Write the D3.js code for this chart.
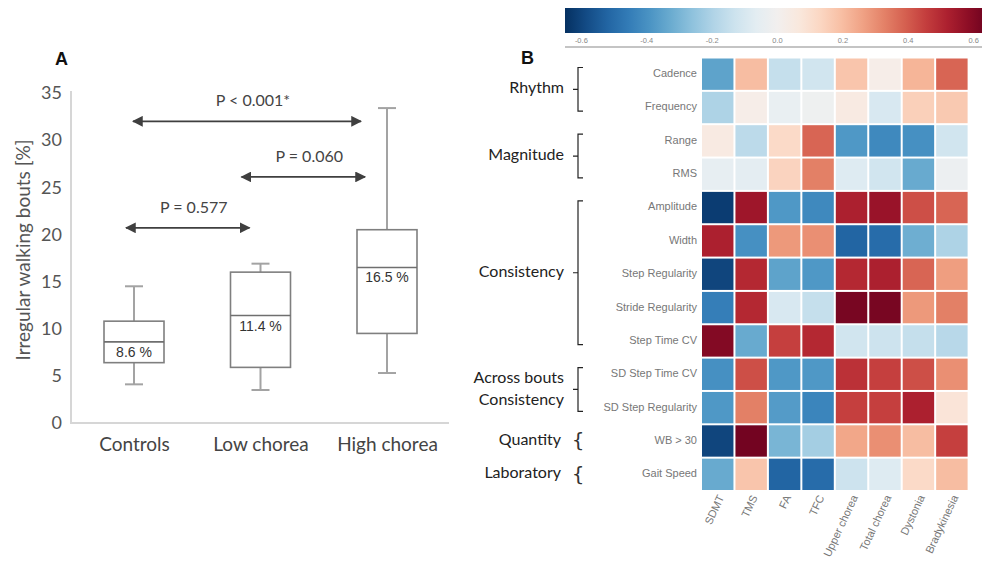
<!DOCTYPE html>
<html>
<head>
<meta charset="utf-8">
<script src="https://cdn.jsdelivr.net/npm/d3@7"></script>
<style>
  html, body { margin: 0; padding: 0; background: #fff; }
  svg { display: block; }
</style>
</head>
<body>
<svg id="chart" width="982" height="566"></svg>
<script>
// ---- Panel A: irregular walking bouts per group ----
const groups = ["Controls", "Low chorea", "High chorea"];
const whiskerLow = [4.1, 3.5, 5.3];
const quartile1 = [6.4, 5.9, 9.5];
const medians = [8.6, 11.4, 16.5];
const quartile3 = [10.8, 16.0, 20.5];
const whiskerHigh = [14.5, 16.9, 33.4];
const yTicks = [0, 5, 10, 15, 20, 25, 30, 35];

// pairwise comparisons drawn as double arrows
const compLabels = ["P < 0.001*", "P = 0.060", "P = 0.577"];
const compFrom = [0, 1, 0];
const compTo = [2, 2, 1];
const compLevel = [32.0, 26.1, 20.7];

// ---- Panel B: correlation heatmap ----
const featureRows = ["Cadence", "Frequency", "Range", "RMS", "Amplitude", "Width",
  "Step Regularity", "Stride Regularity", "Step Time CV", "SD Step Time CV",
  "SD Step Regularity", "WB > 30", "Gait Speed"];
const clinicalCols = ["SDMT", "TMS", "FA", "TFC", "Upper chorea", "Total chorea", "Dystonia", "Bradykinesia"];
const correlations = [
  [-0.35, 0.20, -0.15, -0.12, 0.18, 0.03, 0.22, 0.38],
  [-0.20, 0.03, -0.04, -0.02, 0.05, -0.10, 0.15, 0.17],
  [0.05, -0.17, 0.12, 0.38, -0.38, -0.42, -0.40, -0.12],
  [-0.05, -0.06, 0.14, 0.33, -0.08, -0.12, -0.33, -0.03],
  [-0.62, 0.55, -0.38, -0.42, 0.52, 0.56, 0.42, 0.38],
  [0.52, -0.40, 0.28, 0.30, -0.52, -0.50, -0.32, -0.20],
  [-0.60, 0.50, -0.35, -0.38, 0.50, 0.52, 0.38, 0.27],
  [-0.45, 0.50, -0.10, -0.15, 0.62, 0.62, 0.28, 0.33],
  [0.60, -0.33, 0.45, 0.50, -0.12, -0.13, -0.15, -0.18],
  [-0.40, 0.42, -0.38, -0.38, 0.48, 0.45, 0.42, 0.30],
  [-0.38, 0.33, -0.37, -0.43, 0.45, 0.45, 0.52, 0.08],
  [-0.60, 0.63, -0.30, -0.22, 0.25, 0.30, 0.20, 0.45],
  [-0.33, 0.18, -0.52, -0.50, -0.13, -0.08, 0.12, 0.20]
];
const colorTicks = [-0.6, -0.4, -0.2, 0.0, 0.2, 0.4, 0.6];
const colorDomain = [-0.65, 0.65];

// feature groups: label lines, first row, last row
const groupLabels = [["Rhythm"], ["Magnitude"], ["Consistency"], ["Across bouts", "Consistency"], ["Quantity"], ["Laboratory"]];
const groupFirst = [0, 2, 4, 9, 11, 12];
const groupLast = [1, 3, 8, 10, 11, 12];

const svg = d3.select("#chart");
const calibri = "Lato, 'Open Sans', sans-serif";
const arial = "'Liberation Sans', Arial, sans-serif";

// ================= Panel A =================
const y = d3.scaleLinear().domain([0, 35]).range([423, 93]);
const x = d3.scalePoint().domain(groups).range([134, 387]);
const boxW = 60, capW = 18;

const gA = svg.append("g");

gA.append("text").attr("x", 55).attr("y", 65).text("A")
  .attr("font-family", arial).attr("font-weight", "bold").attr("font-size", 18).attr("fill", "#111");

// axis lines
gA.append("line").attr("x1", 71).attr("x2", 71).attr("y1", y(35) - 2).attr("y2", y(0))
  .attr("stroke", "#d6d6d6").attr("stroke-width", 2);
gA.append("line").attr("x1", 70).attr("x2", 449).attr("y1", y(0)).attr("y2", y(0))
  .attr("stroke", "#d6d6d6").attr("stroke-width", 2);

const yAxis = d3.axisLeft(y).tickValues(yTicks).tickSize(0).tickPadding(9).tickFormat(d3.format("d"));
gA.append("g").attr("transform", "translate(71,0)").call(yAxis)
  .call(g => g.select(".domain").remove())
  .call(g => g.selectAll("text").attr("font-family", calibri).attr("font-size", 18).attr("fill", "#555"));

const xAxis = d3.axisBottom(x).tickSize(0).tickPadding(15);
gA.append("g").attr("transform", `translate(0,${y(0)})`).call(xAxis)
  .call(g => g.select(".domain").remove())
  .call(g => g.selectAll("text").attr("font-family", calibri).attr("font-size", 19).attr("fill", "#444"));

gA.append("text")
  .attr("transform", `translate(25,${(y(0) + y(35)) / 2 - 8}) rotate(-90)`)
  .attr("text-anchor", "middle").attr("dominant-baseline", "middle")
  .attr("font-family", calibri).attr("font-size", 19).attr("fill", "#555")
  .text("Irregular walking bouts [%]");

// boxes
const boxes = gA.selectAll("g.box").data(groups).join("g").attr("class", "box");
boxes.append("line")
  .attr("x1", d => x(d)).attr("x2", d => x(d))
  .attr("y1", (d, i) => y(whiskerHigh[i])).attr("y2", (d, i) => y(quartile3[i]))
  .attr("stroke", "#a3a3a3").attr("stroke-width", 2);
boxes.append("line")
  .attr("x1", d => x(d)).attr("x2", d => x(d))
  .attr("y1", (d, i) => y(quartile1[i])).attr("y2", (d, i) => y(whiskerLow[i]))
  .attr("stroke", "#a3a3a3").attr("stroke-width", 2);
boxes.append("line")
  .attr("x1", d => x(d) - capW / 2).attr("x2", d => x(d) + capW / 2)
  .attr("y1", (d, i) => y(whiskerHigh[i])).attr("y2", (d, i) => y(whiskerHigh[i]))
  .attr("stroke", "#a3a3a3").attr("stroke-width", 2);
boxes.append("line")
  .attr("x1", d => x(d) - capW / 2).attr("x2", d => x(d) + capW / 2)
  .attr("y1", (d, i) => y(whiskerLow[i])).attr("y2", (d, i) => y(whiskerLow[i]))
  .attr("stroke", "#a3a3a3").attr("stroke-width", 2);
boxes.append("rect")
  .attr("x", d => x(d) - boxW / 2).attr("width", boxW)
  .attr("y", (d, i) => y(quartile3[i])).attr("height", (d, i) => y(quartile1[i]) - y(quartile3[i]))
  .attr("fill", "#fff").attr("stroke", "#7f7f7f").attr("stroke-width", 1.6);
boxes.append("line")
  .attr("x1", d => x(d) - boxW / 2).attr("x2", d => x(d) + boxW / 2)
  .attr("y1", (d, i) => y(medians[i])).attr("y2", (d, i) => y(medians[i]))
  .attr("stroke", "#6f6f6f").attr("stroke-width", 1.6);
boxes.append("text")
  .attr("x", d => x(d)).attr("y", (d, i) => y(medians[i]) + 15)
  .attr("text-anchor", "middle")
  .attr("font-family", arial).attr("font-size", 14).attr("fill", "#333")
  .text((d, i) => `${medians[i].toFixed(1)} %`);

// comparison arrows
const defs = svg.append("defs");
["arrowEnd", "arrowStart"].forEach((id, k) => {
  defs.append("marker").attr("id", id)
    .attr("viewBox", "0 0 10 10").attr("refX", k === 0 ? 9 : 1).attr("refY", 5)
    .attr("markerWidth", 6).attr("markerHeight", 6).attr("markerUnits", "strokeWidth")
    .attr("orient", "auto")
    .append("path").attr("d", k === 0 ? "M0,0 L10,5 L0,10 Z" : "M10,0 L0,5 L10,10 Z")
    .attr("fill", "#3f3f3f");
});
// arrows stop short of the group centres
const arrowInsetStart = [1, 19, 8];
const arrowInsetEnd = [26, 22, 11];
const arrowX1 = i => x(groups[compFrom[i]]) - arrowInsetStart[i];
const arrowX2 = i => x(groups[compTo[i]]) - arrowInsetEnd[i];
const comps = gA.selectAll("g.comp").data(compLabels).join("g").attr("class", "comp");
comps.append("line")
  .attr("x1", (d, i) => arrowX1(i))
  .attr("x2", (d, i) => arrowX2(i))
  .attr("y1", (d, i) => y(compLevel[i])).attr("y2", (d, i) => y(compLevel[i]))
  .attr("stroke", "#3f3f3f").attr("stroke-width", 1.8)
  .attr("marker-start", "url(#arrowStart)").attr("marker-end", "url(#arrowEnd)");
comps.append("text")
  .attr("x", (d, i) => (arrowX1(i) + arrowX2(i)) / 2 + 6)
  .attr("y", (d, i) => y(compLevel[i]) - 15)
  .attr("text-anchor", "middle")
  .attr("font-family", calibri).attr("font-size", 16).attr("fill", "#444")
  .text(d => d);

// ================= Panel B =================
const color = d3.scaleSequential(t => d3.interpolateRdBu(1 - t)).domain(colorDomain);
const hx = d3.scaleBand().domain(clinicalCols).range([702, 967.6]).paddingInner(0.06);
const hy = d3.scaleBand().domain(featureRows).range([58.5, 490]).paddingInner(0.06);

const gB = svg.append("g");
gB.append("text").attr("x", 521).attr("y", 64).text("B")
  .attr("font-family", arial).attr("font-weight", "bold").attr("font-size", 18).attr("fill", "#111");

// color bar
const cx = d3.scaleLinear().domain(colorDomain).range([565, 990]);
const grad = defs.append("linearGradient").attr("id", "cbar")
  .attr("x1", "0%").attr("x2", "100%").attr("y1", "0%").attr("y2", "0%");
d3.range(0, 1.0001, 0.05).forEach(t => {
  grad.append("stop").attr("offset", `${t * 100}%`)
    .attr("stop-color", color(colorDomain[0] + t * (colorDomain[1] - colorDomain[0])));
});
gB.append("rect").attr("x", cx(colorDomain[0])).attr("y", 8)
  .attr("width", cx(colorDomain[1]) - cx(colorDomain[0])).attr("height", 25)
  .attr("fill", "url(#cbar)");
gB.append("line").attr("x1", 565).attr("x2", 982).attr("y1", 47).attr("y2", 47)
  .attr("stroke", "#8a8a8a").attr("stroke-width", 1.2);
gB.selectAll("text.ctick").data(colorTicks).join("text").attr("class", "ctick")
  .attr("x", d => cx(d)).attr("y", 43)
  .attr("text-anchor", "middle")
  .attr("font-family", arial).attr("font-size", 7.5).attr("fill", "#888")
  .text(d => d.toFixed(1));

// cells
const cells = [];
featureRows.forEach((r, i) => clinicalCols.forEach((c, j) => cells.push({ r, c, v: correlations[i][j] })));
gB.selectAll("rect.cell").data(cells).join("rect").attr("class", "cell")
  .attr("x", d => hx(d.c)).attr("y", d => hy(d.r))
  .attr("width", hx.bandwidth()).attr("height", hy.bandwidth())
  .attr("fill", d => color(d.v));

// row labels
gB.selectAll("text.row").data(featureRows).join("text").attr("class", "row")
  .attr("x", 697).attr("y", d => hy(d) + hy.bandwidth() / 2)
  .attr("text-anchor", "end").attr("dominant-baseline", "middle")
  .attr("font-family", arial).attr("font-size", 11).attr("fill", "#777")
  .text(d => d);

// column labels
gB.selectAll("text.col").data(clinicalCols).join("text").attr("class", "col")
  .attr("transform", d => `translate(${hx(d) + hx.bandwidth() / 2 + 4},${496}) rotate(-65)`)
  .attr("text-anchor", "end").attr("dominant-baseline", "middle")
  .attr("font-family", arial).attr("font-size", 11).attr("fill", "#777")
  .text(d => d);

// feature group brackets and labels
const rowTop = i => hy(featureRows[i]);
const rowBottom = i => hy(featureRows[i]) + hy.bandwidth();
const bx = 578;
groupLabels.forEach((lines, g) => {
  const top = rowTop(groupFirst[g]);
  const bot = rowBottom(groupLast[g]);
  const mid = (top + bot) / 2;
  if (groupFirst[g] !== groupLast[g]) {
    const t = top + 9, b = bot - 12, m = (t + b) / 2;
    gB.append("path")
      .attr("d", `M${bx + 5},${t} H${bx} V${b} H${bx + 5} M${bx},${m} H${bx - 5}`)
      .attr("fill", "none").attr("stroke", "#222").attr("stroke-width", 1.2);
    lines.forEach((txt, k) => {
      gB.append("text").attr("x", 564)
        .attr("y", m + (k - (lines.length - 1) / 2) * 22)
        .attr("text-anchor", "end").attr("dominant-baseline", "middle")
        .attr("font-family", calibri).attr("font-size", 16).attr("fill", "#222")
        .text(txt);
    });
  } else {
    gB.append("text").attr("x", bx).attr("y", mid + 1)
      .attr("text-anchor", "middle").attr("dominant-baseline", "middle")
      .attr("font-family", "'DejaVu Sans', sans-serif")
      .attr("font-size", 20).attr("fill", "#333").text("{");
    gB.append("text").attr("x", 561).attr("y", mid)
      .attr("text-anchor", "end").attr("dominant-baseline", "middle")
      .attr("font-family", calibri).attr("font-size", 16).attr("fill", "#222")
      .text(lines[0]);
  }
});
</script>
</body>
</html>
